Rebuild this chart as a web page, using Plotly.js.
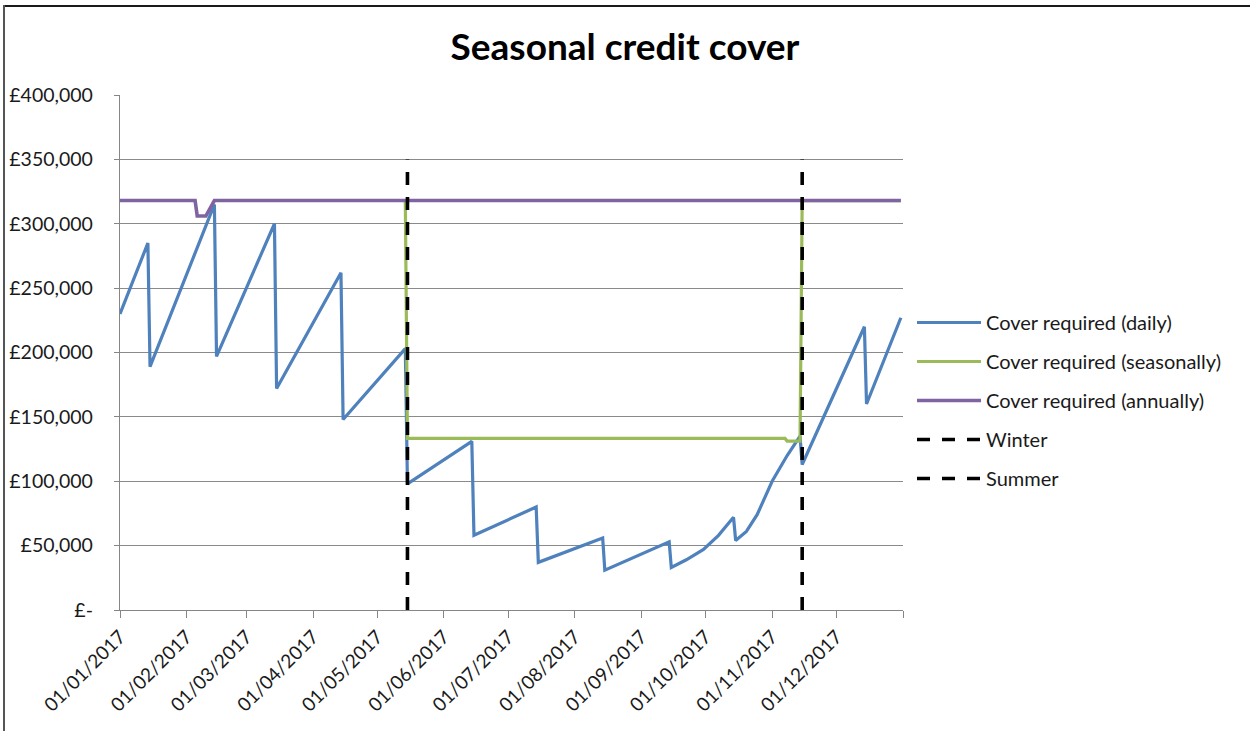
<!DOCTYPE html>
<html>
<head>
<meta charset="utf-8">
<script src="https://cdn.plot.ly/plotly-3.0.1.min.js"></script>
<style>
  html, body { margin: 0; padding: 0; background: #fff; }
  #wrap { position: relative; width: 1250px; height: 731px; overflow: hidden; }
  #chart { position: absolute; left: 0; top: 0; width: 1250px; height: 731px; }
  #bt { position: absolute; left: 3px; top: 5px; width: 1247px; height: 2px; background: #1a1a1a; }
  #bl { position: absolute; left: 3px; top: 5px; width: 2px; height: 726px; background: #555; }
</style>
</head>
<body>
<div id="wrap">
  <div id="chart"></div>
  <div id="bt"></div>
  <div id="bl"></div>
</div>
<script>
// ---- Data ----
const dailyDates = [
  '2017-01-01','2017-01-14','2017-01-15','2017-02-14','2017-02-15','2017-03-14','2017-03-15',
  '2017-04-14','2017-04-15','2017-05-14','2017-05-15','2017-06-14','2017-06-15','2017-07-14',
  '2017-07-15','2017-08-14','2017-08-15','2017-09-14','2017-09-15','2017-09-22','2017-09-30',
  '2017-10-07','2017-10-14','2017-10-15','2017-10-20','2017-10-25','2017-11-01','2017-11-08',
  '2017-11-14','2017-11-15','2017-12-14','2017-12-15','2017-12-31'
];
const dailyValues = [
  230000, 285000, 189000, 315000, 197000, 300000, 172000,
  262000, 148000, 203000, 98000, 131000, 58000, 80000,
  37000, 56000, 31000, 53000, 33000, 39000, 47000,
  58000, 72000, 54000, 61000, 74000, 100000, 120000,
  135000, 113000, 220000, 160000, 227000
];

const seasonalDates = ['2017-05-14','2017-05-15','2017-11-07','2017-11-08','2017-11-14','2017-11-15','2017-12-31'];
const seasonalValues = [318000, 133300, 133300, 131200, 131200, 318000, 318000];

const annualDates = ['2017-01-01','2017-02-05','2017-02-06','2017-02-10','2017-02-14','2017-12-31'];
const annualValues = [318000, 318000, 306000, 306000, 318000, 318000];

const winterDates = ['2017-05-15','2017-05-15'];
const winterValues = [0, 350000];
const summerDates = ['2017-11-15','2017-11-15'];
const summerValues = [0, 350000];

const seriesNames = ['Cover required (daily)','Cover required (seasonally)','Cover required (annually)','Winter','Summer'];

const xTickVals = ['2017-01-01','2017-02-01','2017-03-01','2017-04-01','2017-05-01','2017-06-01',
                   '2017-07-01','2017-08-01','2017-09-01','2017-10-01','2017-11-01','2017-12-01','2018-01-01'];
const xTickText = ['01/01/2017','01/02/2017','01/03/2017','01/04/2017','01/05/2017','01/06/2017',
                   '01/07/2017','01/08/2017','01/09/2017','01/10/2017','01/11/2017','01/12/2017',''];
const yTickVals = [0, 50000, 100000, 150000, 200000, 250000, 300000, 350000, 400000];
const yTickText = ['£-','£50,000','£100,000','£150,000','£200,000','£250,000','£300,000','£350,000','£400,000'];

const FONT = 'Lato, "Open Sans", sans-serif';

const traces = [
  {x: dailyDates, y: dailyValues, name: seriesNames[0], mode: 'lines', legendgroup: 'a',
   line: {color: '#4F81BD', width: 3.2}},
  {x: seasonalDates, y: seasonalValues, name: seriesNames[1], mode: 'lines', legendgroup: 'b',
   line: {color: '#9BBB59', width: 3.2}},
  {x: annualDates, y: annualValues, name: seriesNames[2], mode: 'lines', legendgroup: 'c',
   line: {color: '#8064A2', width: 3.6}},
  {x: winterDates, y: winterValues, name: seriesNames[3], mode: 'lines', legendgroup: 'd',
   line: {color: '#000000', width: 3.6, dash: '13px,12px'}},
  {x: summerDates, y: summerValues, name: seriesNames[4], mode: 'lines', legendgroup: 'e',
   line: {color: '#000000', width: 3.6, dash: '13px,12px'}}
];

const layout = {
  width: 1250, height: 731,
  paper_bgcolor: '#ffffff', plot_bgcolor: '#ffffff',
  margin: {l: 120, r: 347, t: 95, b: 121, pad: 0},
  title: {text: 'Seasonal credit cover', font: {family: FONT, size: 37, color: '#000', weight: 700},
          x: 0.5, xref: 'container', xanchor: 'center', y: 1 - 47/731, yref: 'container', yanchor: 'middle'},
  font: {family: FONT, color: '#1a1a1a'},
  showlegend: true,
  legend: {xref: 'container', yref: 'container', x: 912/1250, y: 1 - 303/731, xanchor: 'left', yanchor: 'top',
           font: {family: FONT, size: 20, color: '#1a1a1a'}, traceorder: 'grouped', tracegroupgap: 10,
           itemwidth: 64, bgcolor: 'rgba(0,0,0,0)', borderwidth: 0},
  xaxis: {type: 'date', range: ['2017-01-01','2018-01-01'], tickmode: 'array', tickvals: xTickVals, ticktext: xTickText,
          tickangle: -45, tickfont: {family: FONT, size: 19, color: '#1a1a1a'}, showgrid: false,
          showline: true, linecolor: '#868686', linewidth: 1.2, ticks: 'outside', ticklen: 7, tickcolor: '#868686',
          zeroline: false, fixedrange: true},
  yaxis: {range: [0, 400000], tickmode: 'array', tickvals: yTickVals, ticktext: yTickText,
          tickfont: {family: FONT, size: 19.5, color: '#1a1a1a'}, showgrid: true, gridcolor: '#8a8a8a', gridwidth: 1,
          showline: true, linecolor: '#868686', linewidth: 1.2, ticks: 'outside', ticklen: 5, tickcolor: '#868686',
          ticklabelstandoff: 17, zeroline: false, fixedrange: true}
};

Plotly.newPlot('chart', traces, layout, {staticPlot: true, displayModeBar: false});
</script>
</body>
</html>
